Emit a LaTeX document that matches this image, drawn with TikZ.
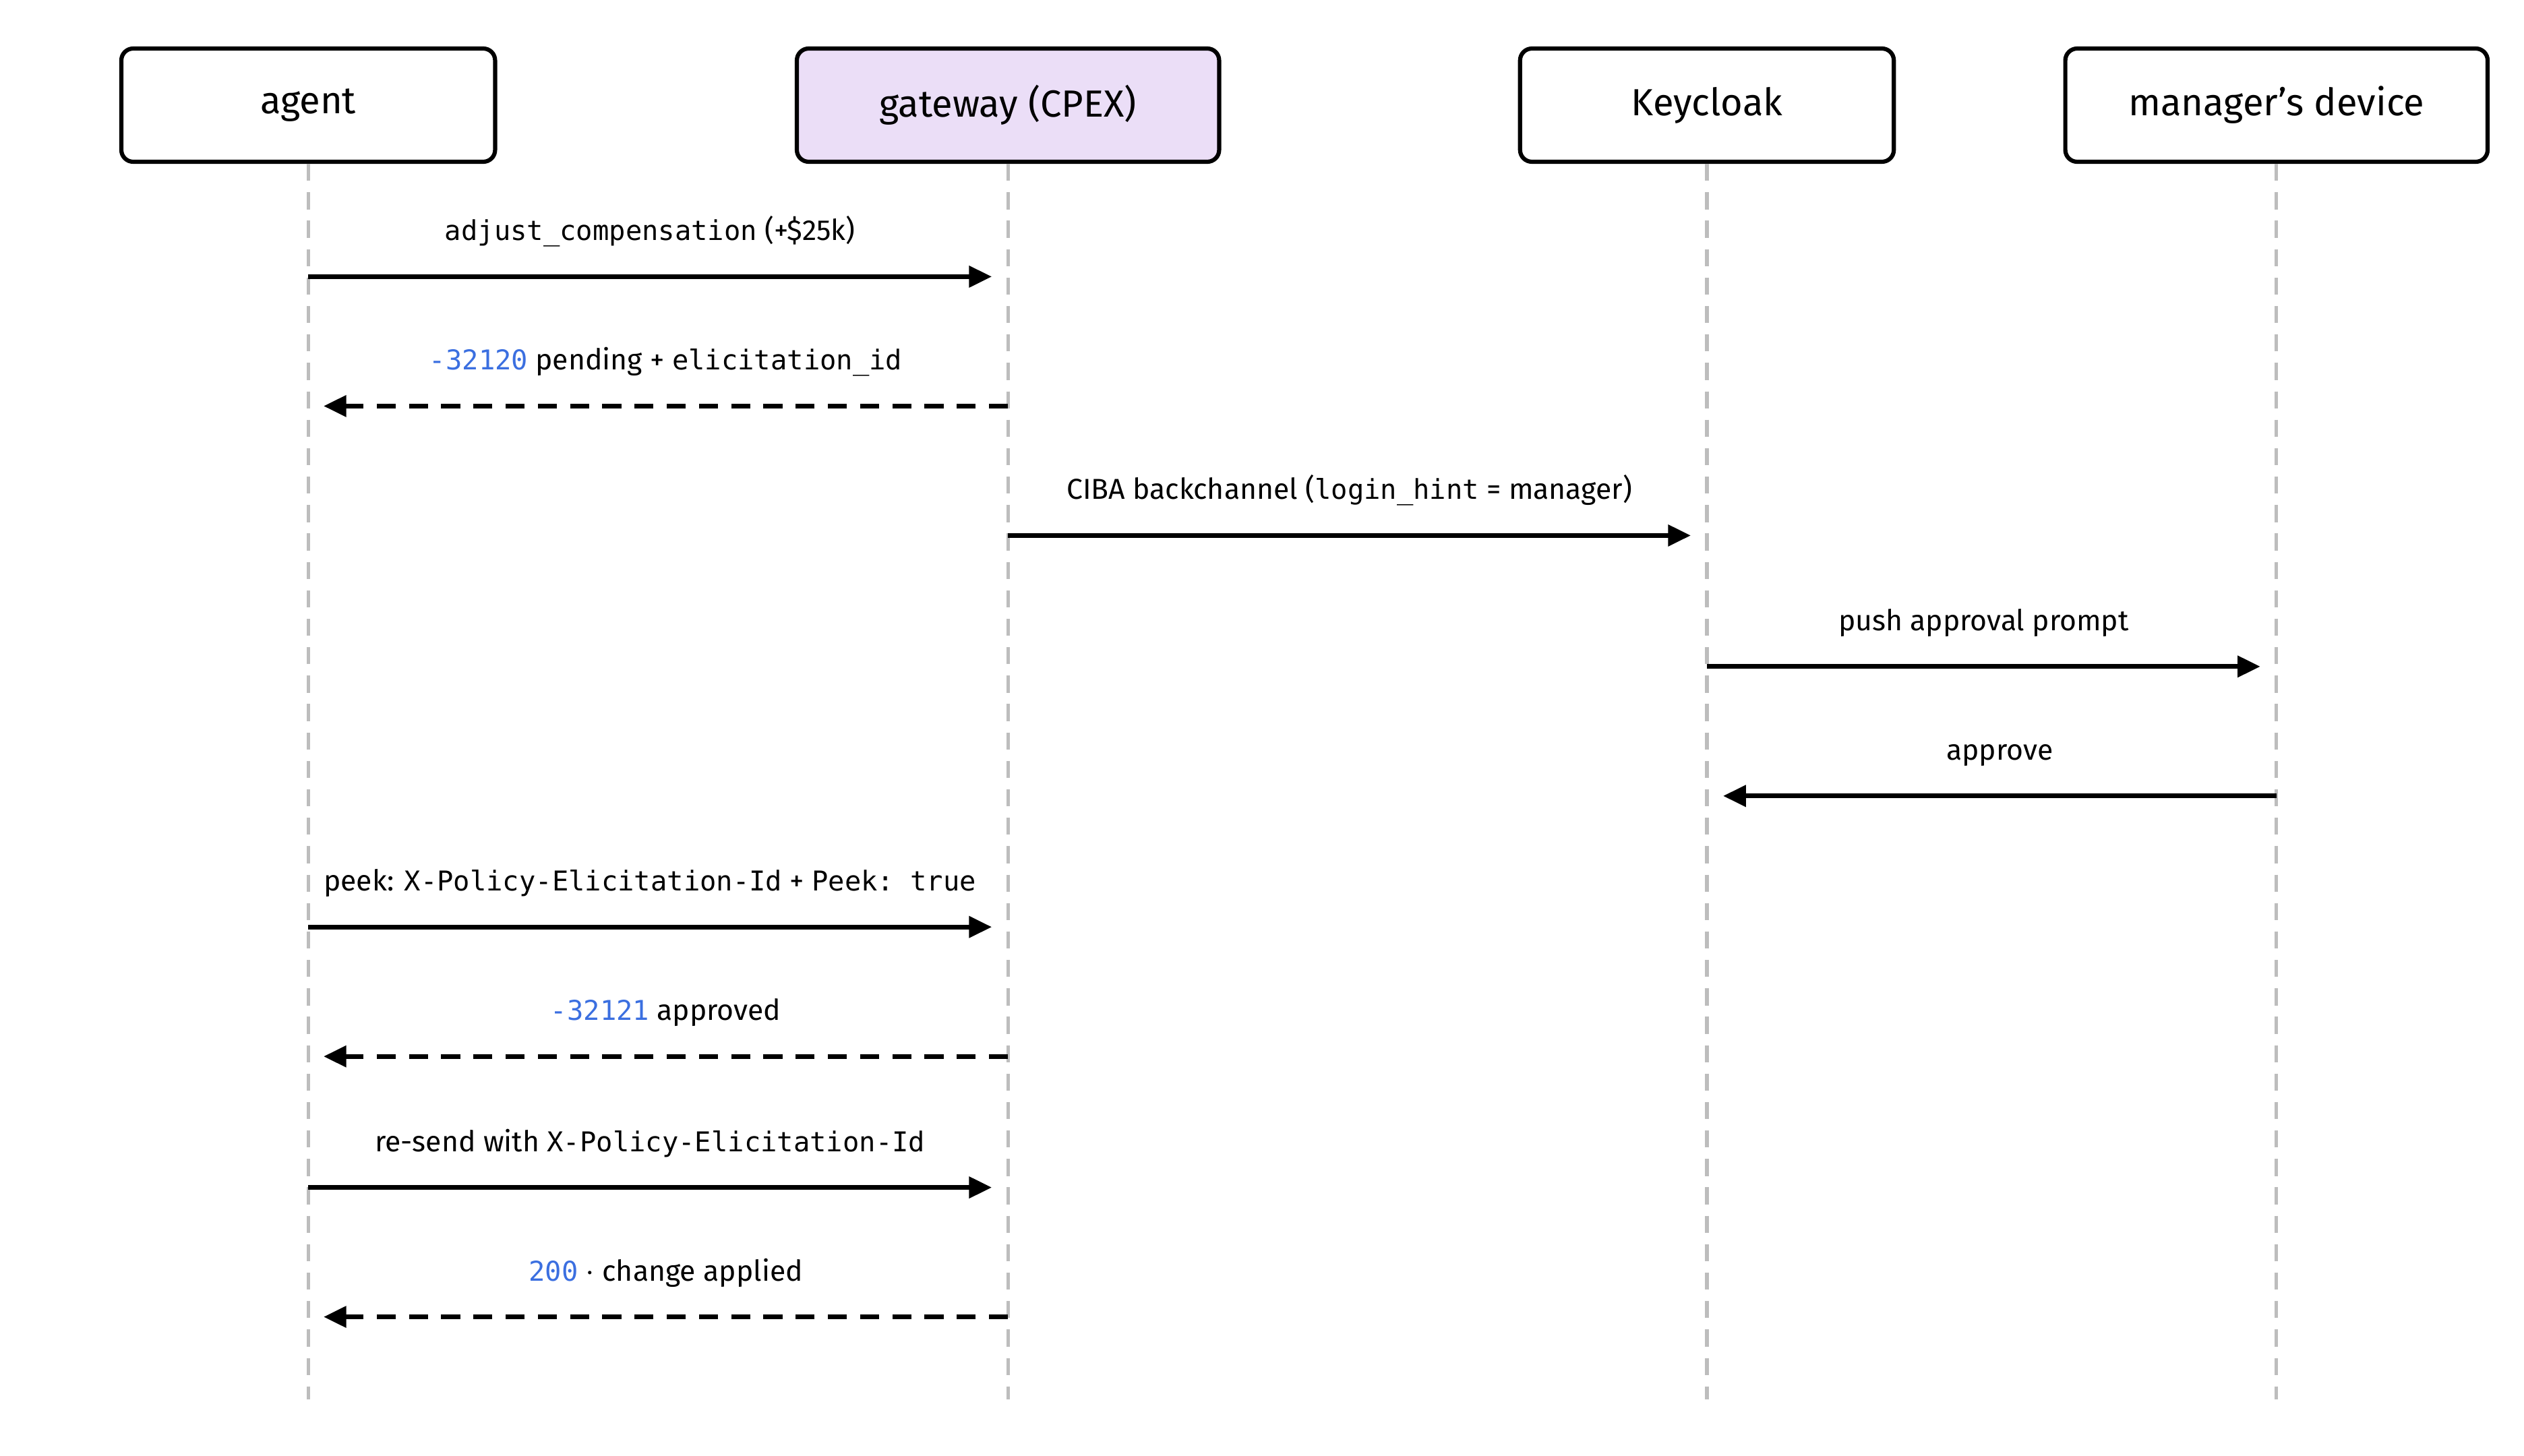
\documentclass[tikz,border=0pt]{standalone}
\usepackage{fontspec}
\setmainfont{Fira Sans}[Scale=0.95]
\setmonofont{DejaVu Sans Mono}[Scale=0.9]
\usetikzlibrary{positioning, arrows.meta}
\definecolor{lanefill}{HTML}{EBDEF7}
\definecolor{codeblue}{HTML}{3B6FE0}
\definecolor{lifegray}{HTML}{BDBDBD}
\tikzset{
    actornode/.style = {draw, rectangle, rounded corners=0.22cm, line width=2.2pt,
      minimum width=6.93cm, minimum height=2.1cm, font=\fontsize{21}{25}\selectfont},
    lifeline/.style = {lifegray, line width=1.8pt, dash pattern=on 9pt off 6pt},
    callmsg/.style = {line width=2.4pt, -{Triangle[length=12pt,width=11pt]}},
    replymsg/.style = {callmsg, dash pattern=on 10pt off 7pt},
    msglabel/.style = {above=0.4cm, font=\fontsize{16}{19}\selectfont}
}
\newcommand{\code}[1]{\texttt{#1}}
\newcommand{\errcode}[1]{{\color{codeblue}\texttt{#1}}}

\begin{document}
\begin{tikzpicture}[x=0.03cm, y=-0.03cm]
    \useasboundingbox (0,0) rectangle (1560,900);

    \node [name=agent, actornode] at (190.5,65) {agent};
    \node [name=gateway, actornode, fill=lanefill, minimum width=7.83cm] at (623,65) {gateway (CPEX)};
    \node [name=keycloak, actornode] at (1055,65) {Keycloak};
    \node [name=device, actornode, minimum width=7.83cm] at (1407,65) {manager's device};

    \foreach \who/\x in {agent/190.5, gateway/623, keycloak/1055, device/1407}
        \draw [lifeline] (\who.south) -- (\x,865);

    % messages
    \coordinate (a1) at (190.5,171); \coordinate (g1) at (613,171);
    \draw [callmsg] (a1) -- node [msglabel] {\code{adjust\_compensation} (+\$25k)} (g1);
    \coordinate (g2) at (623,251); \coordinate (a2) at (200,251);
    \draw [replymsg] (g2) -- node [msglabel] {\errcode{-32120} pending + \code{elicitation\_id}} (a2);
    \coordinate (g3) at (623,331); \coordinate (k3) at (1045,331);
    \draw [callmsg] (g3) -- node [msglabel] {CIBA backchannel (\code{login\_hint} = manager)} (k3);
    \coordinate (k4) at (1055,412); \coordinate (d4) at (1397,412);
    \draw [callmsg] (k4) -- node [msglabel] {push approval prompt} (d4);
    \coordinate (d5) at (1407,492); \coordinate (k5) at (1065,492);
    \draw [callmsg] (d5) -- node [msglabel] {approve} (k5);
    \coordinate (a6) at (190.5,573); \coordinate (g6) at (613,573);
    \draw [callmsg] (a6) -- node [msglabel] {peek: \code{X-Policy-Elicitation-Id} + \code{Peek: true}} (g6);
    \coordinate (g7) at (623,653); \coordinate (a7) at (200,653);
    \draw [replymsg] (g7) -- node [msglabel] {\errcode{-32121} approved} (a7);
    \coordinate (a8) at (190.5,734); \coordinate (g8) at (613,734);
    \draw [callmsg] (a8) -- node [msglabel] {re-send with \code{X-Policy-Elicitation-Id}} (g8);
    \coordinate (g9) at (623,814); \coordinate (a9) at (200,814);
    \draw [replymsg] (g9) -- node [msglabel] {\errcode{200} $\cdot$ change applied} (a9);
\end{tikzpicture}
\end{document}
